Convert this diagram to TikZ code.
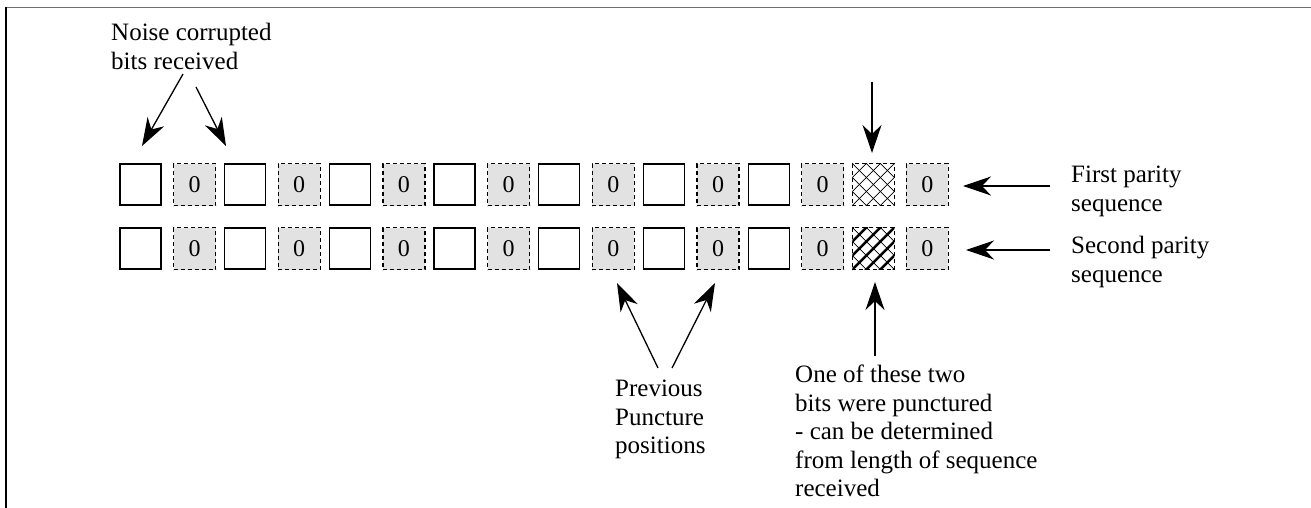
\documentclass[tikz,border=0pt]{standalone}
\usepackage{fontspec}
\setmainfont{Liberation Serif}
\usetikzlibrary{arrows.meta}
\definecolor{zerogray}{HTML}{E2E2E2}
\definecolor{framegray}{HTML}{707070}
\begin{document}
\begin{tikzpicture}[x=1pt,y=-1pt,
  solidbox/.style={draw, line width=1.3pt, minimum width=41pt, minimum height=41pt, inner sep=0pt},
  zerobox/.style={draw, line width=1.2pt, dash pattern=on 4pt off 3pt, fill=zerogray,
     minimum width=42pt, minimum height=42pt, inner sep=0pt, font=\fontsize{24}{24}\selectfont},
  hatchbox/.style={draw, line width=1.2pt, dash pattern=on 4pt off 3pt,
     minimum width=42pt, minimum height=42pt, inner sep=0pt},
  lbl/.style={font=\fontsize{25}{28.5}\selectfont, align=left, anchor=north west, inner sep=0pt},
  arr/.style={-{Stealth[length=28pt,width=19pt,inset=9pt]}, line width=1.3pt}]
\useasboundingbox (0,0) rectangle (1311,508);
% frame
\draw[framegray, line width=1.6pt] (5,7.5) -- (1311,7.5);
\draw[line width=1.3pt] (6,7.5) -- (6,508);
% boxes
\foreach \i in {0,...,6}{
  \node[solidbox] (sa\i) at ({140.5+104.7*\i},184.5) {};
  \node[zerobox]  (za\i) at ({194.5+104.7*\i},184.5) {0};
  \node[solidbox] (sb\i) at ({140.5+104.7*\i},248.5) {};
  \node[zerobox]  (zb\i) at ({194.5+104.7*\i},248.5) {0};
}
\node[zerobox] (za7) at ({194.5+104.7*7},184.5) {0};
\node[zerobox] (zb7) at ({194.5+104.7*7},248.5) {0};
% hatched boxes
\begin{scope}[shift={(873.4,184.5)}]
  \clip (-21,-21) rectangle (21,21);
  \foreach \k in {-3,...,3}{
    \draw[line width=0.8pt] ({\k*14-30},30) -- ({\k*14+30},-30);
    \draw[line width=0.8pt] ({\k*14-30},-30) -- ({\k*14+30},30);
  }
\end{scope}
\begin{scope}[shift={(873.4,248.5)}]
  \clip (-21,-21) rectangle (21,21);
  \foreach \k in {-3,...,3}{
    \draw[line width=2.4pt] ({\k*14-30},30) -- ({\k*14+30},-30);
    \draw[line width=0.8pt] ({\k*14-30},-30) -- ({\k*14+30},30);
  }
\end{scope}
\node[hatchbox] (ha) at (873.4,184.5) {};
\node[hatchbox] (hb) at (873.4,248.5) {};
% labels
\node[lbl] (noise) at (111,23) {Noise corrupted\\bits received};
\node[lbl] (first) at (1071,166) {First parity\\sequence};
\node[lbl] (second) at (1071,236) {Second parity\\sequence};
\node[lbl] (prev) at (615,380) {Previous\\Puncture\\positions};
\node[lbl] (one) at (795,365) {One of these two\\bits were punctured\\- can be determined\\from length of sequence\\received};
% arrow end points
\coordinate (n1s) at (183,74);  \coordinate (n1e) at (142,146);
\coordinate (n2s) at (196,87);  \coordinate (n2e) at (226,146);
\coordinate (ds)  at (872,82);  \coordinate (de)  at (872,153);
\coordinate (f1s) at (1050,186); \coordinate (f1e) at (963,186);
\coordinate (f2s) at (1050,250); \coordinate (f2e) at (966,250);
\coordinate (us)  at (875,356); \coordinate (ue)  at (875,282);
\coordinate (p1s) at (658,368); \coordinate (p1e) at (617,283);
\coordinate (p2s) at (672,368); \coordinate (p2e) at (715,283);
\draw[arr] (n1s) -- (n1e);
\draw[arr] (n2s) -- (n2e);
\draw[arr] (ds) -- (de);
\draw[arr] (f1s) -- (f1e);
\draw[arr] (f2s) -- (f2e);
\draw[arr] (us) -- (ue);
\draw[arr] (p1s) -- (p1e);
\draw[arr] (p2s) -- (p2e);
\end{tikzpicture}
\end{document}
